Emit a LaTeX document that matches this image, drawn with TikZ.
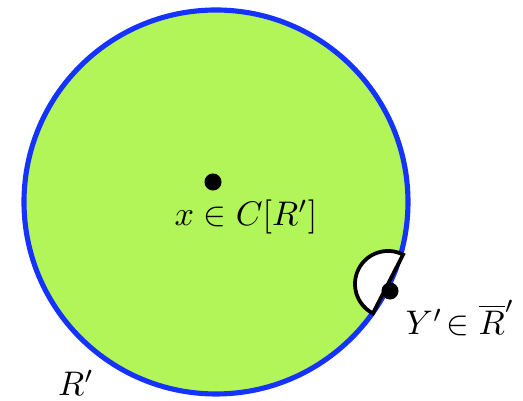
\documentclass[tikz,border=0pt]{standalone}
\usepackage{amsmath,amssymb}
\usepackage{xcolor}
\usetikzlibrary{positioning}
\definecolor{regiongreen}{rgb}{0.70, 0.96, 0.35}
\definecolor{borderblue}{rgb}{0.08, 0.20, 1.0}

\begin{document}
\begin{tikzpicture}[
    x=0.293pt, y=-0.293pt,
    region/.style={draw=borderblue, fill=regiongreen, line width=1.5pt},
    dot/.style={circle, fill=black, inner sep=0pt, minimum size=5pt},
    halfdisk/.style={draw=black, fill=white, line width=1.1pt},
    lbl/.style={inner sep=0pt, font=\normalsize}
]
\useasboundingbox (0,0) rectangle (523,401);

% Region R'
\node[region, circle, minimum size=384*0.293pt, inner sep=0pt] (reg) at (216,202) {};

% Interior point
\node[dot] (x) at (213,182) {};
\node[lbl] (xlab) at (246,217) {$x\in C[R']$};

% Boundary point with half disk
\coordinate (hc) at (388,284);
\draw[halfdisk] (hc) ++(-62.8:33) arc[start angle=-62.8, end angle=-242.8, radius=33] -- cycle;
\node[dot] (y) at (390,291) {};
\node[lbl] (ylab) at (460,318) {$Y'\!\in\overline{R}'$};

% Name of the region
\node[lbl] (rlab) at (76,383) {$R'$};

\end{tikzpicture}
\end{document}
